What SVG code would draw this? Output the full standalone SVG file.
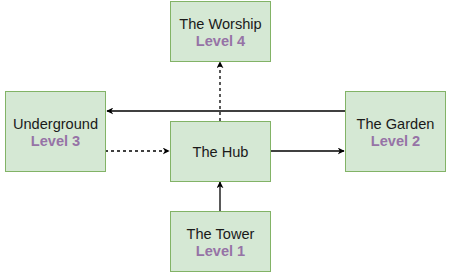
<svg xmlns="http://www.w3.org/2000/svg" width="451" height="277" viewBox="0 0 451 277">
  <defs>
    <style>
      .box { fill: #d5e8d4; stroke: #82b366; stroke-width: 1; }
      .t { font-family: "Liberation Sans", Arial, sans-serif; font-size: 14.6px; fill: #1a1a1a; text-anchor: middle; }
      .lv { font-weight: bold; fill: #9673a6; }
      .edge { stroke: #000; stroke-width: 1.3; fill: none; marker-end: url(#arrow); }
      .dash { stroke-dasharray: 3 3; }
    </style>
    <marker id="arrow" viewBox="0 0 10 10" refX="9" refY="5" markerWidth="7" markerHeight="7" markerUnits="userSpaceOnUse" orient="auto">
      <path d="M0,0 L10,5 L0,10 L3,5 Z" fill="#000"/>
    </marker>
  </defs>
  <rect width="451" height="277" fill="#fff"/>

  <g id="connectors">
    <line class="edge" x1="345" y1="111" x2="107" y2="111"/>
    <line class="edge dash" x1="105" y1="151" x2="169" y2="151"/>
    <line class="edge" x1="270" y1="151" x2="344" y2="151"/>
    <line class="edge dash" x1="220" y1="121" x2="220" y2="62"/>
    <line class="edge" x1="220" y1="211" x2="220" y2="182"/>
  </g>

  <g id="worship">
    <rect class="box" x="170.5" y="1.5" width="100" height="60"/>
    <text class="t" x="220.5" y="28.5">The Worship</text>
    <text class="t lv" x="220.5" y="46">Level 4</text>
  </g>

  <g id="underground">
    <rect class="box" x="5.5" y="91.5" width="100" height="80"/>
    <text class="t" x="55.5" y="128.5">Underground</text>
    <text class="t lv" x="55.5" y="146">Level 3</text>
  </g>

  <g id="hub">
    <rect class="box" x="170.5" y="121.5" width="100" height="60"/>
    <text class="t" x="220.5" y="156.5">The Hub</text>
  </g>

  <g id="garden">
    <rect class="box" x="345.5" y="91.5" width="100" height="80"/>
    <text class="t" x="395.5" y="128.5">The Garden</text>
    <text class="t lv" x="395.5" y="146">Level 2</text>
  </g>

  <g id="tower">
    <rect class="box" x="170.5" y="211.5" width="100" height="60"/>
    <text class="t" x="220.5" y="238.5">The Tower</text>
    <text class="t lv" x="220.5" y="256">Level 1</text>
  </g>
</svg>
